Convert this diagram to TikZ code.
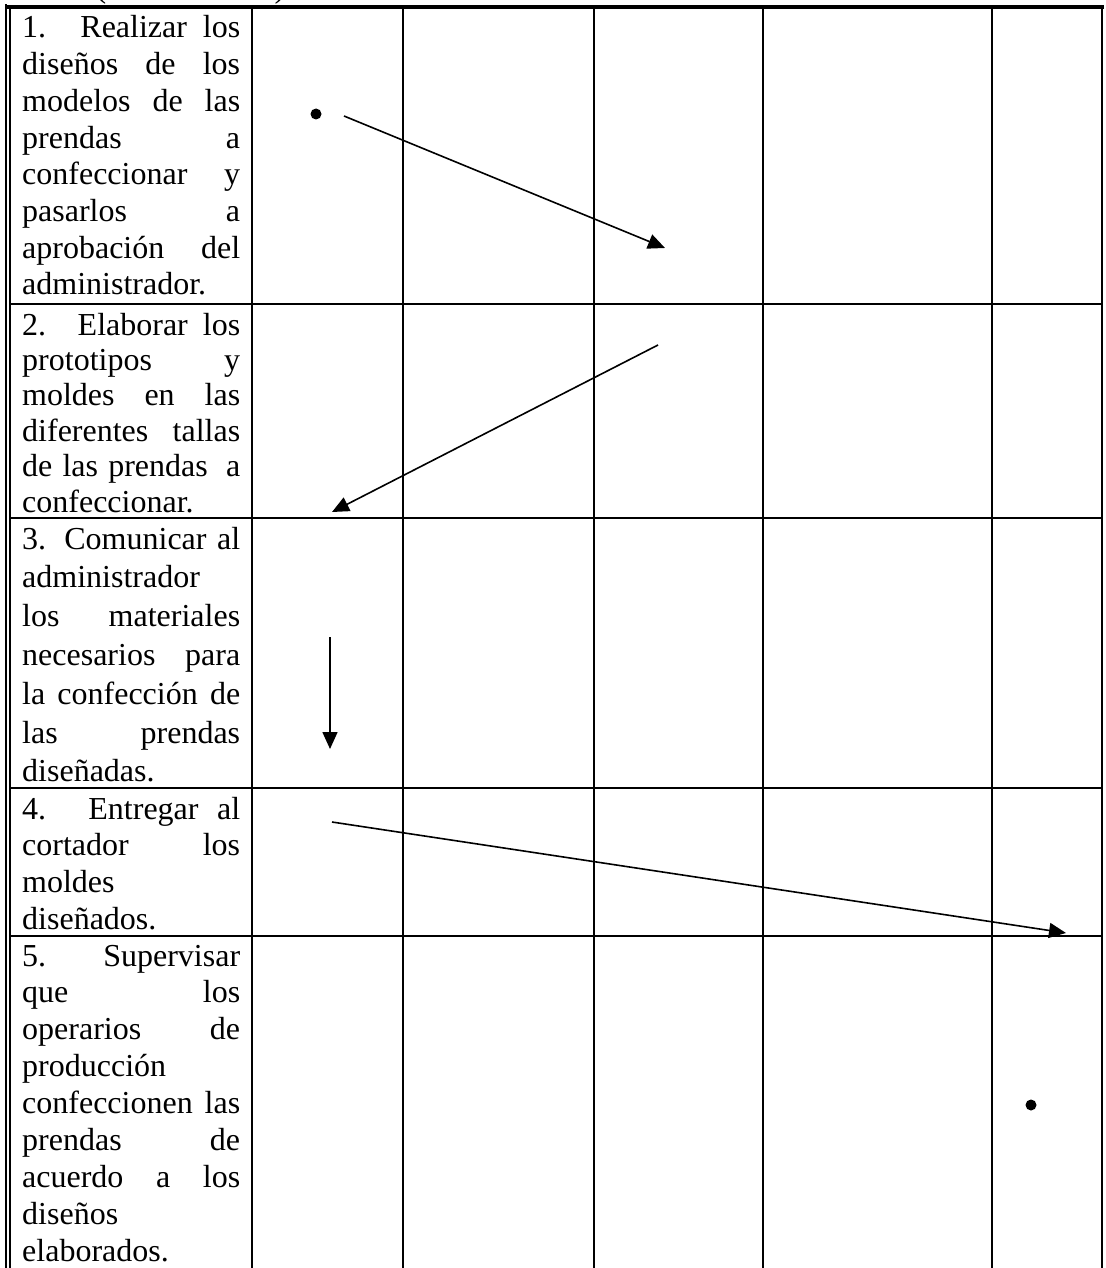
\documentclass[tikz,border=0pt]{standalone}
\usepackage{fontspec}
\setmainfont{Liberation Serif}
\usetikzlibrary{arrows.meta}
\tikzset{
  rule/.style={line width=2pt, line cap=rect},
  thickrule/.style={line width=4pt},
  flow/.style={line width=1.6pt, -{Triangle[length=17pt,width=15pt]}},
  celltext/.style={anchor=base west, inner sep=0pt, font=\fontsize{32pt}{36.7pt}\selectfont},
  bullet/.style={circle, fill=black, inner sep=0pt, minimum size=11pt}
}
\newcommand{\jl}[1]{\makebox[218pt][s]{#1}}
\newcommand{\rowtext}[2]{\parbox[t]{218pt}{\baselineskip=#1\lineskiplimit=-100pt\lineskip=0pt #2}}
\begin{document}
\begin{tikzpicture}[x=1pt,y=-1pt]
\useasboundingbox (0,0) rectangle (1105,1268);
\clip (0,0) rectangle (1105,1268);
% cut-off heading above the table
\node[anchor=base, inner sep=0pt, font=\fontsize{32pt}{36pt}\selectfont] (ph1) at (101,-2.5) {(};
\node[anchor=base, inner sep=0pt, font=\fontsize{32pt}{36pt}\selectfont] (ph2) at (280,-2.5) {)};
% table rules
\draw[thickrule] (5,7) -- (1104,7);
\draw[rule] (6,5) -- (6,1270);
\draw[rule] (10,9) -- (10,1270);
\foreach \x in {252,403,594,763,992,1102} \draw[rule] (\x,8) -- (\x,1270);
\foreach \y in {304,518,788,936} \draw[rule] (10,\y) -- (1102,\y);
% row texts
\node[celltext] (t1) at (22,38) {\rowtext{36.7pt}{%
\jl{1. Realizar los}\\
\jl{diseños de los}\\
\jl{modelos de las}\\
\jl{prendas\hfill a}\\
\jl{confeccionar\hfill y}\\
\jl{pasarlos\hfill a}\\
\jl{aprobación del}\\
administrador.}};
\node[celltext] (t2) at (22,335) {\rowtext{35.4pt}{%
\jl{2. Elaborar los}\\
\jl{prototipos\hfill y}\\
\jl{moldes en las}\\
\jl{diferentes tallas}\\
\jl{de las prendas\hspace{8pt} a}\\
confeccionar.}};
\node[celltext] (t3) at (22,549) {\rowtext{38.8pt}{%
\jl{3. Comunicar al}\\
administrador\\
\jl{los materiales}\\
\jl{necesarios para}\\
\jl{la confección de}\\
\jl{las\hfill prendas}\\
diseñadas.}};
\node[celltext] (t4) at (22,819) {\rowtext{36.7pt}{%
\jl{4. Entregar al}\\
\jl{cortador\hfill los}\\
moldes\\
diseñados.}};
\node[celltext] (t5) at (22,966) {\rowtext{36.9pt}{%
\jl{5.\hfill Supervisar}\\
\jl{que\hfill los}\\
\jl{operarios\hfill de}\\
producción\\
\jl{confeccionen las}\\
\jl{prendas\hfill de}\\
\jl{acuerdo a los}\\
diseños\\
elaborados.}};
% symbols
\node[bullet] (d1) at (316,114) {};
\node[bullet] (d5) at (1031,1105) {};
\coordinate (a1s) at (344,116);
\coordinate (a1e) at (665,248);
\coordinate (a2s) at (658,345);
\coordinate (a2e) at (332,512);
\coordinate (a3s) at (330,637);
\coordinate (a3e) at (330,749);
\coordinate (a4s) at (332,822);
\coordinate (a4e) at (1066,933);
\draw[flow] (a1s) -- (a1e);
\draw[flow] (a2s) -- (a2e);
\draw[flow] (a3s) -- (a3e);
\draw[flow] (a4s) -- (a4e);
\end{tikzpicture}
\end{document}
